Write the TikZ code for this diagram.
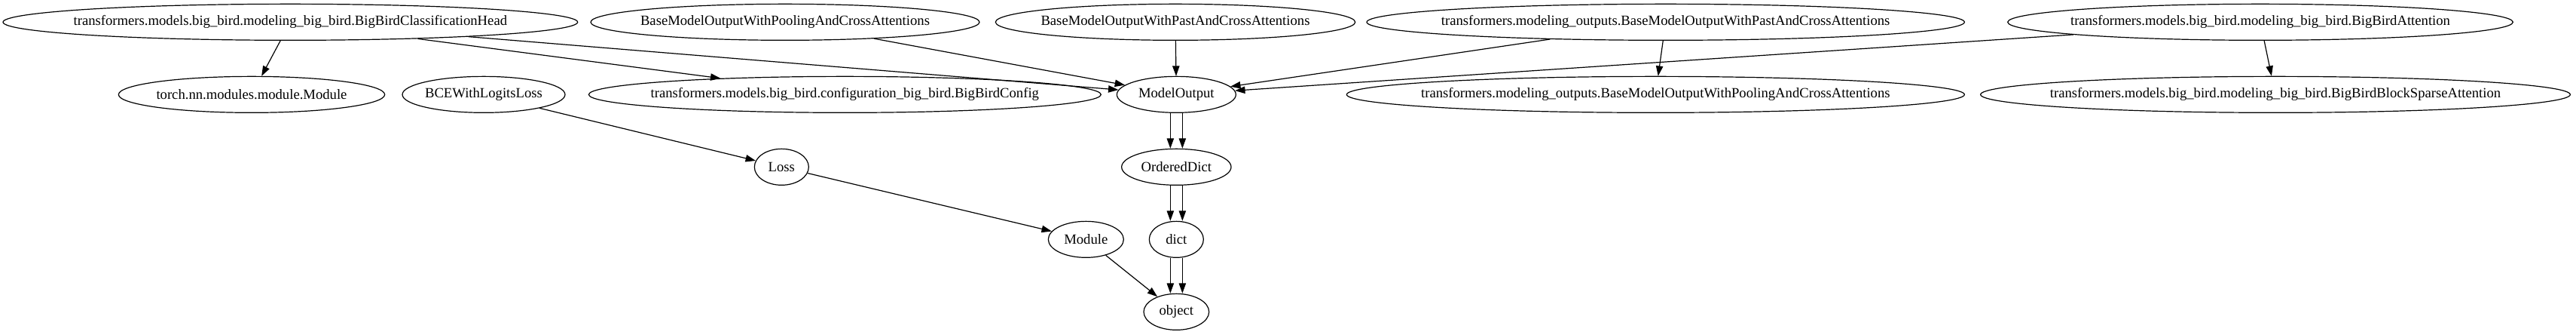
\documentclass[tikz,border=0pt]{standalone}
\usepackage{fontspec}
\setmainfont{Liberation Serif}
\usetikzlibrary{shapes.geometric,arrows.meta}
\tikzset{
  ell/.style={draw, ellipse, line width=0.9pt, minimum height=36pt, inner sep=0pt, font=\fontsize{14}{16}\selectfont},
  edge/.style={draw, line width=0.9pt, -{Triangle[length=10pt,width=7pt]}}
}
\newcommand{\gnode}[5]{\node[ell, minimum width=#4] (#1) at (#2pt,#3pt) {\makebox[0pt]{#5}};}
\begin{document}
\begin{tikzpicture}
\useasboundingbox (0,0) rectangle (2564.25pt,-332.25pt);
\gnode{A}{289}{-22}{572pt}{transformers.models.big\_bird.modeling\_big\_bird.BigBirdClassificationHead}
\gnode{B}{781.5}{-22}{387pt}{BaseModelOutputWithPoolingAndCrossAttentions}
\gnode{C}{1170}{-22}{358pt}{BaseModelOutputWithPastAndCrossAttentions}
\gnode{D}{1658}{-22}{595pt}{transformers.modeling\_outputs.BaseModelOutputWithPastAndCrossAttentions}
\gnode{F}{2250}{-22}{503pt}{transformers.models.big\_bird.modeling\_big\_bird.BigBirdAttention}
\gnode{TM}{250.5}{-94}{265pt}{torch.nn.modules.module.Module}
\gnode{BCE}{481.5}{-94}{162pt}{BCEWithLogitsLoss}
\gnode{CFG}{841}{-94}{510pt}{transformers.models.big\_bird.configuration\_big\_bird.BigBirdConfig}
\gnode{MO}{1171}{-94}{118.5pt}{ModelOutput}
\gnode{E}{1648}{-94}{615pt}{transformers.modeling\_outputs.BaseModelOutputWithPoolingAndCrossAttentions}
\gnode{G}{2265}{-94}{587pt}{transformers.models.big\_bird.modeling\_big\_bird.BigBirdBlockSparseAttention}
\gnode{Loss}{778}{-166}{54pt}{Loss}
\gnode{OD}{1171}{-166}{109pt}{OrderedDict}
\gnode{Mod}{1081}{-238}{75pt}{Module}
\gnode{dict}{1171}{-238}{54pt}{dict}
\gnode{obj}{1171}{-310}{65pt}{object}

\path[edge] (A) -- (TM);
\path[edge] (A) -- (CFG);
\path[edge] (A) -- (MO);
\path[edge] (B) -- (MO);
\path[edge] (C) -- (MO);
\path[edge] (D) -- (MO);
\path[edge] (D) -- (E);
\path[edge] (F) -- (MO);
\path[edge] (F) -- (G);
\path[edge] (BCE) -- (Loss);
\path[edge] (Loss) -- (Mod);
\path[edge] (Mod) -- (obj);
\foreach \s in {-6pt,6pt}{
  \path[edge] ([xshift=\s]MO.south) -- ([xshift=\s]OD.north);
  \path[edge] ([xshift=\s]OD.south) -- ([xshift=\s]dict.north);
  \path[edge] ([xshift=\s]dict.south) -- ([xshift=\s]obj.north);
}
\end{tikzpicture}
\end{document}
